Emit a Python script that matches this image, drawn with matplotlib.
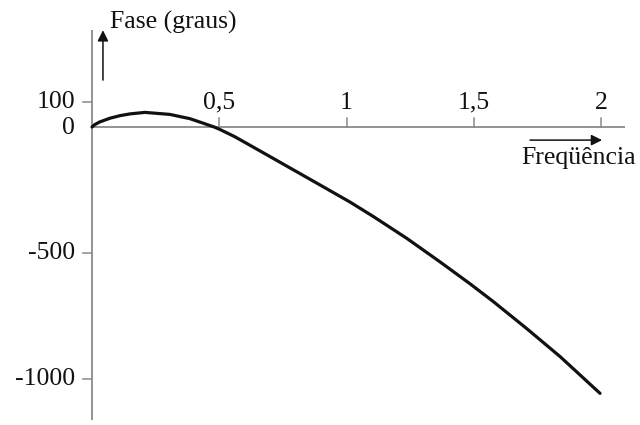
import matplotlib
matplotlib.use("Agg")
import matplotlib.pyplot as plt

# Phase response (degrees) versus frequency
freq = [0.0, 0.01, 0.03, 0.071, 0.11, 0.149, 0.208, 0.306, 0.385, 0.44,
        0.48, 0.503, 0.56, 0.634, 0.765, 0.896, 1.014, 1.105, 1.237, 1.367,
        1.485, 1.577, 1.708, 1.839, 1.996]
phase = [0, 9, 20, 35, 45, 52, 58, 50, 33, 14,
         0, -10, -38, -80, -155, -230, -298, -355, -442, -535,
         -622, -693, -800, -911, -1057]

xticks = [0.5, 1, 1.5, 2]
xtick_labels = ["0,5", "1", "1,5", "2"]
yticks = [100, 0, -500, -1000]
ytick_labels = ["100", "0", "-500", "-1000"]

plt.rcParams['font.family'] = ['Liberation Serif', 'DejaVu Serif']
FS = 18.5
INK = "#111111"

fig = plt.figure(figsize=(6.4, 4.25), dpi=100)
ax = fig.add_axes([0, 0, 1, 1])
ax.set_xlim(-0.3615, 2.153)
ax.set_ylim(-1182.5, 504)
ax.axis("off")

axis_col = "#8a8a8a"
# axis lines
ax.plot([0, 0], [385, -1163], color=axis_col, lw=1.3, solid_capstyle="butt")
ax.plot([0, 2.094], [0, 0], color=axis_col, lw=1.3, solid_capstyle="butt")

# x ticks (pointing up) and labels
for xv, lab in zip(xticks, xtick_labels):
    ax.plot([xv, xv], [0, 34], color=axis_col, lw=1.1)
    ax.text(xv, 97, lab, ha="center", va="center", fontsize=FS, color=INK)

# y ticks and labels
for yv, lab in zip(yticks, ytick_labels):
    if yv != 0:
        ax.plot([-0.035, 0], [yv, yv], color=axis_col, lw=1.1)
    ax.text(-0.066, yv + (-4 if yv == 0 else 0), lab, ha="right", va="center",
            fontsize=FS, color=INK)

# axis arrows and titles
ax.annotate("", xy=(0.043, 384), xytext=(0.043, 186),
            arrowprops=dict(arrowstyle="-|>", color=INK, lw=1.1,
                            mutation_scale=16, shrinkA=0, shrinkB=0))
ax.text(0.071, 414, "Fase (graus)", ha="left", va="center", fontsize=FS, color=INK)

ax.annotate("", xy=(2.004, -52), xytext=(1.721, -52),
            arrowprops=dict(arrowstyle="-|>", color=INK, lw=1.1,
                            mutation_scale=16, shrinkA=0, shrinkB=0))
ax.text(2.137, -122, "Freqüência", ha="right", va="center", fontsize=FS, color=INK)

# phase curve
ax.plot(freq, phase, color=INK, lw=2.3, solid_capstyle="round", solid_joinstyle="round")

fig.savefig("out.png", dpi=100)
